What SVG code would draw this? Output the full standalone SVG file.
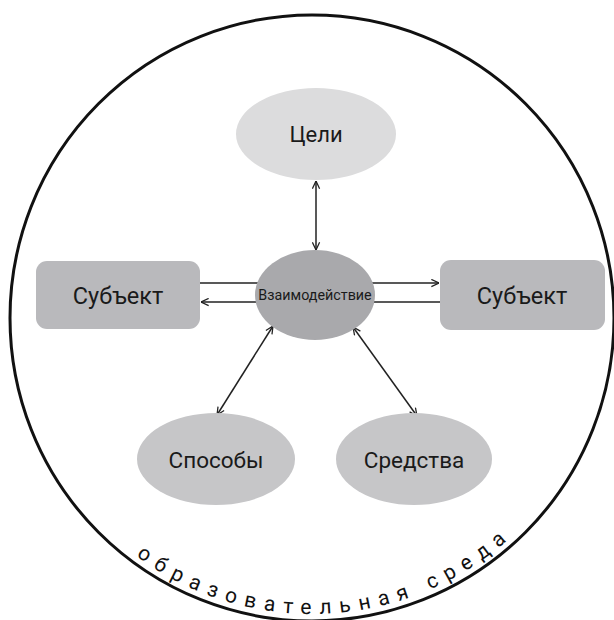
<svg xmlns="http://www.w3.org/2000/svg" width="614" height="620" viewBox="0 0 614 620">
<style>
.lbl{font-family:Roboto,"Liberation Sans",sans-serif;fill:#1a1a1a;text-anchor:middle}
.con{stroke:#222;stroke-width:1.5;fill:none}
.env{font-family:Roboto,"Liberation Sans",sans-serif;fill:#111;font-size:21px;letter-spacing:8.3px}
</style>
<defs>
<marker id="ah" viewBox="0 0 10 10" refX="9.5" refY="5" markerWidth="9" markerHeight="9" markerUnits="userSpaceOnUse" orient="auto-start-reverse">
<path d="M1,1 L9.5,5 L1,9" fill="none" stroke="#222" stroke-width="1.4"/>
</marker>
<path id="envArc" d="M102.7,527.3 A296,296 0 0 0 538.7,508.3"/>
</defs>
<rect width="614" height="620" fill="#fff"/>
<g id="environment">
<ellipse cx="312" cy="318" rx="302" ry="303" fill="none" stroke="#111" stroke-width="3"/>
<text class="env"><textPath href="#envArc" startOffset="44">образовательная среда</textPath></text>
</g>
<g id="connectors">
<line class="con" x1="316" y1="181" x2="316" y2="250" marker-start="url(#ah)" marker-end="url(#ah)"/>
<line class="con" x1="200" y1="283" x2="439" y2="283" marker-end="url(#ah)"/>
<line class="con" x1="440" y1="302" x2="201" y2="302" marker-end="url(#ah)"/>
<line class="con" x1="273" y1="326" x2="217" y2="415" marker-start="url(#ah)" marker-end="url(#ah)"/>
<line class="con" x1="353" y1="327" x2="417" y2="416" marker-start="url(#ah)" marker-end="url(#ah)"/>
</g>
<g id="goals">
<ellipse cx="316" cy="134" rx="80" ry="46" fill="#dcdcdd"/>
<text class="lbl" x="316" y="142" font-size="22">Цели</text>
</g>
<g id="subject-left">
<rect x="36" y="261" width="164" height="68" rx="11" fill="#b9b9bc"/>
<text class="lbl" x="118" y="304" font-size="23.5">Субъект</text>
</g>
<g id="subject-right">
<rect x="440" y="260" width="165" height="70" rx="11" fill="#b9b9bc"/>
<text class="lbl" x="522" y="304" font-size="23.5">Субъект</text>
</g>
<g id="interaction">
<ellipse cx="315" cy="295" rx="60" ry="45" fill="#a9a9ac"/>
<text class="lbl" x="315" y="300" font-size="14.3">Взаимодействие</text>
</g>
<g id="methods">
<ellipse cx="216" cy="459" rx="79" ry="46" fill="#c6c6c8"/>
<text class="lbl" x="216" y="468" font-size="22.5">Способы</text>
</g>
<g id="means">
<ellipse cx="414" cy="459" rx="78" ry="46" fill="#c6c6c8"/>
<text class="lbl" x="414" y="468" font-size="22.5">Средства</text>
</g>
</svg>
